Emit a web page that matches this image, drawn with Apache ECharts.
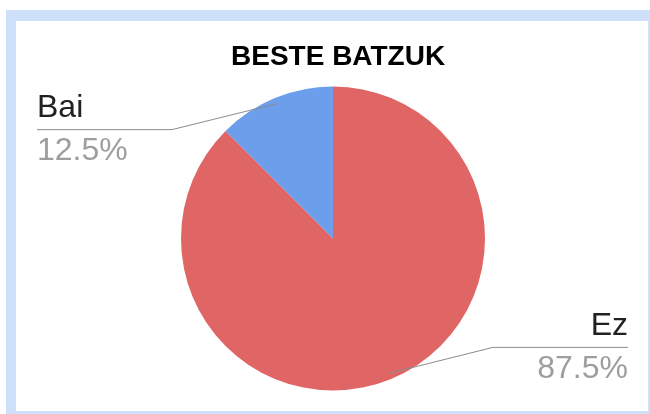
<!DOCTYPE html>
<html>

<head>
    <meta charset="utf-8">
    <title>BESTE BATZUK</title>
    <script src="https://cdn.jsdelivr.net/npm/echarts@6/dist/echarts.min.js"></script>
    <style>
        body { margin: 0; background: #fff; }
    </style>
</head>

<body>
    <div id="main" style="width: 650px;height:414px;"></div>
    <script type="text/javascript">
        // data
        var titleText = 'BESTE BATZUK';
        var categories = ['Ez', 'Bai'];
        var values = [87.5, 12.5];
        var sliceColors = ['#e06666', '#6d9eeb'];

        // label layout knobs
        var edgeDist = [22, 37];   // right edge for Ez, left edge for Bai
        var labelShift = 26;       // label line moves toward the centre by this much
        var ruleLength = 135;      // horizontal part of the label line
        var inset = 6;             // line starts a bit inside the slice
        var pieCenter = [333, 238.5];
        var pieRadius = 152;

        var myChart = echarts.init(document.getElementById('main'));

        // start of the label line: on the slice's middle angle, a little inside the rim
        function lineStart(seriesIndex, dataIndex) {
            var data = myChart.getModel().getSeriesByIndex(seriesIndex).getData();
            var lay = data.getItemLayout(dataIndex);
            var mid = (lay.startAngle + lay.endAngle) / 2;
            var rr = lay.r - inset;
            return [lay.cx + Math.cos(mid) * rr, lay.cy + Math.sin(mid) * rr];
        }

        var fontFam = 'Liberation Sans, Arial, sans-serif';

        // bottom series: the coloured slices
        var slices = {
            type: 'pie',
            z: 2,
            center: pieCenter,
            radius: pieRadius,
            startAngle: 90,
            clockwise: true,
            emphasis: { scale: false },
            label: { show: false },
            labelLine: { show: false },
            data: categories.map(function (name, i) {
                return { name: name, value: values[i], itemStyle: { color: sliceColors[i] } };
            })
        };

        // top series: same pie, see-through, only carries the labels so the lines sit above the slices
        var labels = {
            type: 'pie',
            z: 3,
            silent: true,
            center: pieCenter,
            radius: pieRadius,
            startAngle: 90,
            clockwise: true,
            avoidLabelOverlap: false,
            emphasis: { scale: false },
            itemStyle: { color: 'rgba(0,0,0,0)' },
            label: {
                show: true,
                position: 'outside',
                alignTo: 'edge',
                formatter: '{n|{b}}\n{p|{d}%}',
                rich: {
                    n: { fontFamily: fontFam, fontSize: 32, color: '#212121', lineHeight: 44 },
                    p: { fontFamily: fontFam, fontSize: 32, color: '#9e9e9e', lineHeight: 42 }
                }
            },
            labelLine: {
                show: true,
                showAbove: true,
                length: 10,
                length2: 20,
                lineStyle: { color: '#8c8c8c', width: 1 }
            },
            labelLayout: function (p) {
                if (!p.labelLinePoints) {
                    return {};
                }
                var start = lineStart(p.seriesIndex, p.dataIndex);
                var left = p.labelRect.x < start[0];
                var up = start[1] < pieCenter[1];
                var y = start[1] + (up ? 1 : -1) * labelShift;
                var outer = left ? p.labelRect.x : p.labelRect.x + p.labelRect.width;
                var bend = outer + (left ? 1 : -1) * ruleLength;
                return {
                    y: y,
                    verticalAlign: 'middle',
                    labelLinePoints: [start, [bend, y], [outer, y]]
                };
            },
            data: categories.map(function (name, i) {
                return { name: name, value: values[i], label: { edgeDistance: edgeDist[i] } };
            })
        };

        myChart.setOption({
            animation: false,
            textStyle: { fontFamily: fontFam },
            graphic: [
                {
                    type: 'rect', left: 6, top: 10, silent: true, z: -10,
                    shape: { width: 650, height: 410 },
                    style: { fill: '#cfe0fb' }
                },
                {
                    type: 'rect', left: 16, top: 21, silent: true, z: -9,
                    shape: { width: 632, height: 390 },
                    style: { fill: '#ffffff' }
                }
            ],
            title: {
                text: titleText,
                left: 231,
                top: 43,
                padding: 0,
                textStyle: {
                    fontFamily: fontFam,
                    fontSize: 28,
                    fontWeight: 'bold',
                    color: '#000000'
                }
            },
            series: [slices, labels]
        });
    </script>
</body>

</html>
